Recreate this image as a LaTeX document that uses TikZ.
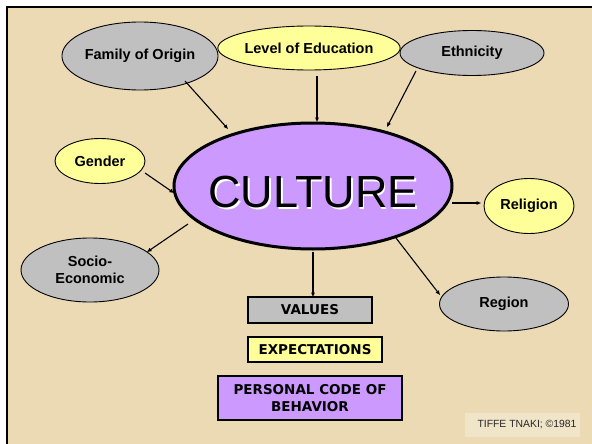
\documentclass[tikz,border=0pt]{standalone}
\usepackage{fontspec}
\setmainfont{Liberation Sans}
\newfontfamily\boxfont{DejaVu Sans}
\usetikzlibrary{shapes.geometric,arrows.meta}
\definecolor{bgbeige}{HTML}{ECDAB4}
\definecolor{footbg}{HTML}{F1E5C9}
\definecolor{ovgray}{HTML}{C0C0C0}
\definecolor{ovyellow}{HTML}{FFFF99}
\definecolor{ovpurple}{HTML}{CC99FF}
\tikzset{
  oval/.style={ellipse, draw=black, line width=0.9pt, inner sep=0pt, align=center,
    font=\fontsize{14.5}{17.5}\selectfont\bfseries},
  graybox/.style={oval, fill=ovgray},
  yellowbox/.style={oval, fill=ovyellow},
  rectbox/.style={draw=black, line width=1.2pt, inner sep=0pt, align=center,
    font=\boxfont\fontsize{13.5}{17}\selectfont\bfseries},
  conn/.style={line width=1.1pt, -{Triangle[length=4.5pt,width=3.5pt]}},
  culfont/.style={font=\fontsize{45}{48}\selectfont}
}
\begin{document}
\begin{tikzpicture}[x=1pt,y=-1pt]
\useasboundingbox (0,0) rectangle (592,444);
\fill[white] (0,0) rectangle (592,444);
\fill[bgbeige] (7,7) rectangle (592,444);
\draw[line width=2pt] (7,444) -- (7,7) -- (592,7);

% outer ellipses
\node[graybox, minimum width=140pt, minimum height=68pt] (fam) at (140,56) {Family of Origin};
\node[yellowbox, minimum width=144pt, minimum height=44pt] (edu) at (309,48) {Level of Education};
\node[graybox, minimum width=144pt, minimum height=45pt] (eth) at (472,53) {Ethnicity};
\node[yellowbox, minimum width=90pt, minimum height=45pt] (gen) at (100,161) {Gender};
\node[graybox, minimum width=138pt, minimum height=64pt] (soc) at (90,270) {Socio-\\Economic};
\node[yellowbox, minimum width=90pt, minimum height=55pt] (rel) at (529,206) {Religion};
\node[graybox, minimum width=129pt, minimum height=54pt] (reg) at (504,304) {Region};

% central ellipse
\node[ellipse, draw=black, line width=3pt, fill=ovpurple, minimum width=278pt, minimum height=126pt, inner sep=0pt] (cul) at (313,186) {};
\node[black, culfont] (cultxt) at (313,193) {\makebox[0pt][l]{\kern1.8pt\raisebox{-1.8pt}{\textcolor{white}{CULTURE}}}CULTURE};

% boxes
\node[rectbox, fill=ovgray, minimum width=124pt, minimum height=26pt] (val) at (310,310) {VALUES};
\node[rectbox, fill=ovyellow, minimum width=134pt, minimum height=25pt] (exp) at (315,349.5) {EXPECTATIONS};
\node[rectbox, fill=ovpurple, minimum width=184pt, minimum height=44pt] (pcb) at (310,398) {PERSONAL CODE OF\\BEHAVIOR};

% footer
\fill[footbg] (465,413) rectangle (580,437);
\node[font=\fontsize{10.4}{12}\selectfont, text=black!85] (foot) at (527,425) {TIFFE TNAKI; ©1981};

% connectors
\coordinate (famA) at (185,81);
\coordinate (famB) at (228,129);
\draw[conn] (famA) -- (famB);
\coordinate (eduA) at (317,76);
\coordinate (eduB) at (317,122);
\draw[conn] (eduA) -- (eduB);
\coordinate (ethA) at (416,71);
\coordinate (ethB) at (387,127);
\draw[conn] (ethA) -- (ethB);
\coordinate (genA) at (145,173);
\coordinate (genB) at (174,193);
\draw[conn] (genA) -- (genB);
\coordinate (socA) at (188,224);
\coordinate (socB) at (147,252);
\draw[conn] (socA) -- (socB);
\coordinate (relA) at (452,203);
\coordinate (relB) at (481,203);
\draw[conn] (relA) -- (relB);
\coordinate (regA) at (396,238);
\coordinate (regB) at (440,295);
\draw[conn] (regA) -- (regB);
\coordinate (valA) at (313,252);
\coordinate (valB) at (313,297);
\draw[conn] (valA) -- (valB);
\end{tikzpicture}
\end{document}
